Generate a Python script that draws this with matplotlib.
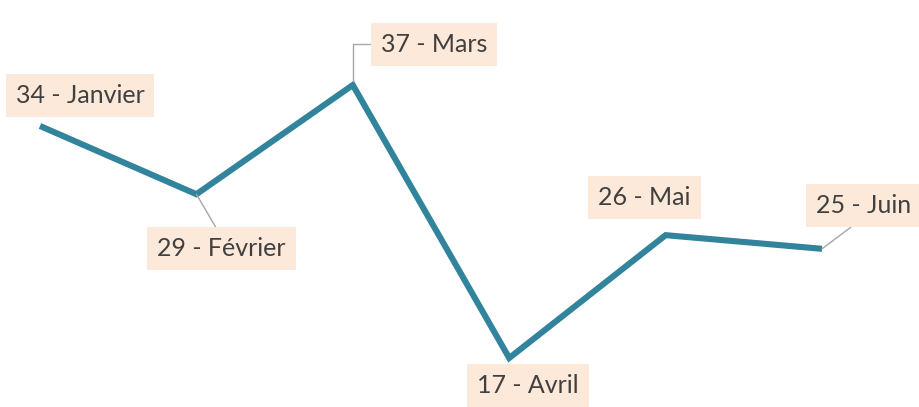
import matplotlib.pyplot as plt

MONTHS = ["Janvier", "Février", "Mars", "Avril", "Mai", "Juin"]
VALUES = [34, 29, 37, 17, 26, 25]

# label offsets from each point, in pixels
LABEL_OFFSETS = [(40, 30), (25, -54), (81, 41), (19, -27), (-21, 38), (42, 43)]
LEADER_STYLE = [None, "straight", "elbow", None, None, "straight"]

LINE_COLOR = "#31849B"
BOX_COLOR = "#FDE9D9"
TEXT_COLOR = "#404040"
LEADER_COLOR = "#A6A6A6"

plt.rcParams["font.family"] = ["Lato", "DejaVu Sans"]

fig = plt.figure(figsize=(9.19, 4.07), dpi=100)
ax = fig.add_axes([0, 0, 1, 1])

x = list(range(len(MONTHS)))
ax.plot(x, VALUES, color=LINE_COLOR, linewidth=4.4, solid_capstyle="butt",
        solid_joinstyle="miter", zorder=3)

for i, (month, value) in enumerate(zip(MONTHS, VALUES)):
    dx, dy = LABEL_OFFSETS[i]
    style = LEADER_STYLE[i]
    arrowprops = None
    if style == "straight":
        arrowprops = dict(arrowstyle="-", color=LEADER_COLOR, linewidth=1.0,
                          shrinkA=0, shrinkB=0,
                          relpos=(0.5, 1.0) if dy < 0 else (0.5, 0.0))
    elif style == "elbow":
        arrowprops = dict(arrowstyle="-", color=LEADER_COLOR, linewidth=1.0,
                          shrinkA=0, shrinkB=3, relpos=(0.0, 0.5),
                          connectionstyle="angle,angleA=180,angleB=90,rad=0")
    ax.annotate(f"{value} - {month}", xy=(i, value), xytext=(dx, dy),
                textcoords="offset pixels", ha="center", va="center",
                fontsize=18, color=TEXT_COLOR,
                bbox=dict(boxstyle="square,pad=0.4", facecolor=BOX_COLOR,
                          edgecolor="none"),
                arrowprops=arrowprops, zorder=4)

ax.set_xlim(-0.2558, 5.620)
ax.set_ylim(13.41, 43.23)
ax.axis("off")

fig.savefig("out.png", dpi=100, facecolor="white")
